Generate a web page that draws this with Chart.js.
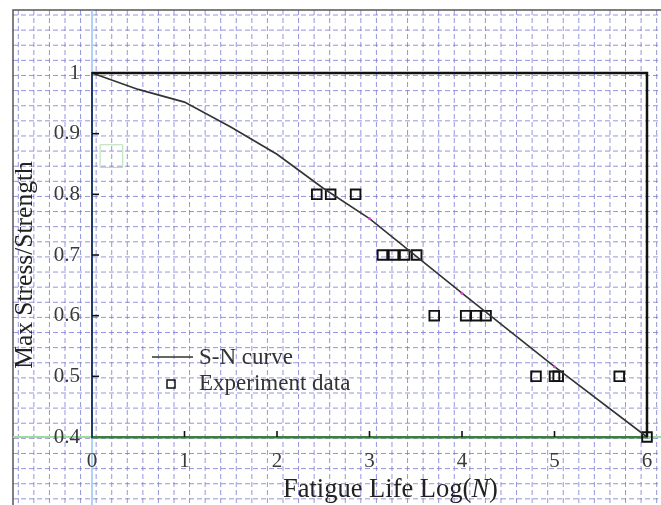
<!DOCTYPE html>
<html>
<head>
<meta charset="utf-8">
<script src="https://cdn.jsdelivr.net/npm/chart.js@4.4.0/dist/chart.umd.min.js"></script>
<style>
  body { margin: 0; background: #fff; }
  #wrap { width: 661px; height: 505px; }
</style>
</head>
<body>
<div id="wrap"><canvas id="myChart" width="661" height="505"></canvas></div>
<script>
// S-N curve
const curveLogN   = [0, 0.5, 1, 1.5, 2, 2.5, 3, 4, 5, 6];
const curveStress = [1.0, 0.973, 0.952, 0.911, 0.866, 0.81, 0.76, 0.637, 0.516, 0.4];

// Experiment data (squares)
const expLogN   = [2.43, 2.58, 2.85, 3.14, 3.26, 3.38, 3.51, 3.70, 4.04, 4.15, 4.26, 4.80, 5.00, 5.04, 5.70, 6.0];
const expStress = [0.8, 0.8, 0.8, 0.7, 0.7, 0.7, 0.7, 0.6, 0.6, 0.6, 0.6, 0.5, 0.5, 0.5, 0.5, 0.4];

// stray green box left in the scan
const boxLogN   = [0.21];
const boxStress = [0.863];

const xTicks = [0, 1, 2, 3, 4, 5, 6];
const yTicks = [0.4, 0.5, 0.6, 0.7, 0.8, 0.9, 1];

const SERIF = '"Liberation Serif", "DejaVu Serif", serif';

function line(c, x1, y1, x2, y2) {
    c.beginPath();
    c.moveTo(x1, y1);
    c.lineTo(x2, y2);
    c.stroke();
}

const paper = {
    id: 'paper',
    beforeDraw(chart) {
        const c = chart.ctx;
        const W = chart.width, H = chart.height;
        c.save();
        c.fillStyle = '#fff';
        c.fillRect(0, 0, W, H);

        // graph paper behind everything
        c.strokeStyle = 'rgba(115,115,205,0.75)';
        c.lineWidth = 1;
        c.setLineDash([5, 3]);
        for (let x = 18.3; x < W; x += 15.57) line(c, x, 10, x, H);
        for (let y = 15; y < H; y += 15.12) line(c, 13, y, W, y);
        c.setLineDash([]);

        // edge of the scanned page
        c.strokeStyle = '#555';
        c.lineWidth = 1.5;
        c.beginPath();
        c.moveTo(13, H);
        c.lineTo(13, 10);
        c.lineTo(W, 10);
        c.stroke();

        // long guide lines through the origin
        const x0 = chart.scales.x.getPixelForValue(xTicks[0]);
        const y0 = chart.scales.y.getPixelForValue(yTicks[0]);
        c.strokeStyle = '#7ab4f0';
        c.lineWidth = 1.2;
        line(c, x0, 10, x0, H);
        c.strokeStyle = '#9edc9e';
        c.lineWidth = 2;
        line(c, 13, y0, W, y0);
        c.restore();
    },
    afterDraw(chart) {
        const c = chart.ctx;
        const a = chart.chartArea;
        const xs = chart.scales.x, ys = chart.scales.y;
        c.save();

        // top and right frame
        c.strokeStyle = '#111';
        c.lineWidth = 2.5;
        c.beginPath();
        c.moveTo(a.left, a.top);
        c.lineTo(a.right, a.top);
        c.lineTo(a.right, a.bottom);
        c.stroke();

        // inward tick marks
        c.lineWidth = 1.6;
        xTicks.slice(1, -1).forEach(v => {
            const px = xs.getPixelForValue(v);
            line(c, px, a.bottom, px, a.bottom - 6);
        });
        yTicks.slice(1, -1).forEach(v => {
            const py = ys.getPixelForValue(v);
            line(c, a.left, py, a.left + 7, py);
        });

        // axis titles
        c.fillStyle = '#222';
        c.textBaseline = 'alphabetic';
        c.textAlign = 'left';
        c.font = '26.5px ' + SERIF;
        const t1 = 'Fatigue Life Log(', t3 = ')';
        let x = 283;
        c.fillText(t1, x, 497);
        x += c.measureText(t1).width;
        c.font = 'italic 26.5px ' + SERIF;
        c.fillText('N', x, 497);
        x += c.measureText('N').width;
        c.font = '26.5px ' + SERIF;
        c.fillText(t3, x, 497);

        c.save();
        c.translate(32, 265);
        c.rotate(-Math.PI / 2);
        c.textAlign = 'center';
        c.font = '25.5px ' + SERIF;
        c.fillText('Max Stress/Strength', 0, 0);
        c.restore();

        // legend
        const ds = chart.data.datasets;
        c.font = '23px ' + SERIF;
        c.textBaseline = 'middle';
        c.fillStyle = '#333';
        c.strokeStyle = '#333';
        c.lineWidth = 1.5;
        line(c, 152, 357, 193, 357);
        c.fillText(ds[0].label, 199, 358);
        c.strokeStyle = '#111';
        c.strokeRect(167, 380, 8, 8);
        c.fillText(ds[1].label, 199, 384);

        c.restore();
    }
};

const ctx = document.getElementById('myChart').getContext('2d');
const chart = new Chart(ctx, {
    type: 'scatter',
    data: {
        datasets: [
            {
                label: 'S-N curve',
                data: curveLogN.map((x, i) => ({ x: x, y: curveStress[i] })),
                showLine: true,
                borderColor: '#333',
                borderWidth: 1.6,
                pointRadius: curveLogN.map(x => (x >= 3 && x <= 5 ? 1.5 : 0)),
                pointBackgroundColor: '#e040e0',
                pointBorderWidth: 0,
                clip: false
            },
            {
                label: 'Experiment data',
                data: expLogN.map((x, i) => ({ x: x, y: expStress[i] })),
                pointStyle: 'rect',
                pointRadius: 6.8,
                borderColor: '#111',
                borderWidth: 1.9,
                backgroundColor: 'rgba(0,0,0,0)',
                clip: false
            },
            {
                label: 'box',
                data: boxLogN.map((x, i) => ({ x: x, y: boxStress[i] })),
                pointStyle: 'rect',
                pointRadius: 16,
                borderColor: '#b2dcb2',
                borderWidth: 1,
                backgroundColor: 'rgba(0,0,0,0)',
                clip: false
            }
        ]
    },
    options: {
        responsive: false,
        animation: false,
        devicePixelRatio: 1,
        layout: { autoPadding: false, padding: { top: 73, right: 14, left: 0, bottom: 0 } },
        plugins: {
            legend: { display: false },
            tooltip: { enabled: false }
        },
        scales: {
            x: {
                type: 'linear',
                min: 0,
                max: 6,
                afterBuildTicks: s => { s.ticks = xTicks.map(v => ({ value: v })); },
                afterFit: s => { s.height = 68; s.paddingLeft = 0; s.paddingRight = 0; },
                grid: { display: false, drawTicks: false },
                border: { display: true, color: '#3d7d3d', width: 2.5 },
                ticks: {
                    padding: 12,
                    color: '#3a3a3a',
                    font: { family: SERIF, size: 21 },
                    maxRotation: 0
                }
            },
            y: {
                type: 'linear',
                min: 0.4,
                max: 1,
                afterBuildTicks: s => { s.ticks = yTicks.map(v => ({ value: v })); },
                afterFit: s => { s.width = 92; s.paddingTop = 0; s.paddingBottom = 0; },
                grid: { display: false, drawTicks: false },
                border: { display: true, color: '#1f3c6c', width: 2 },
                ticks: {
                    padding: 12,
                    color: '#3a3a3a',
                    font: { family: SERIF, size: 21 },
                    callback: v => String(+v.toFixed(1))
                }
            }
        }
    },
    plugins: [paper]
});
</script>
</body>
</html>
